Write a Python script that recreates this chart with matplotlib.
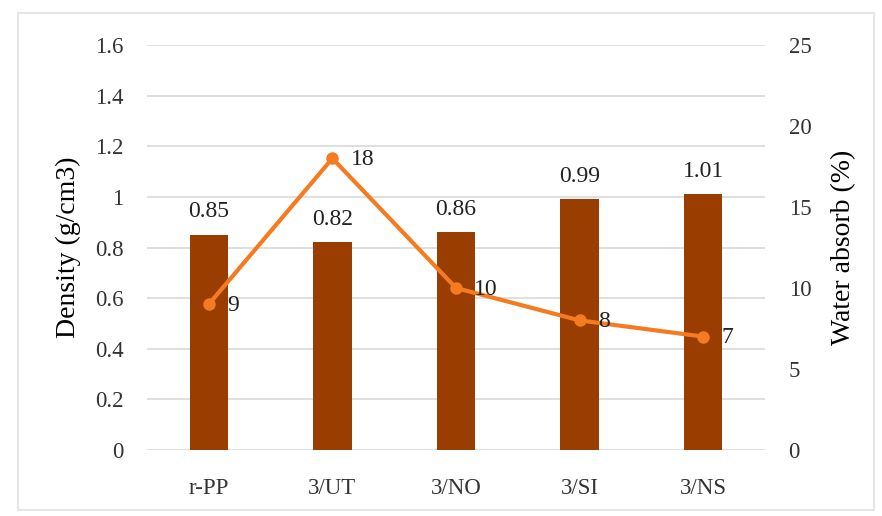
import matplotlib.pyplot as plt
from matplotlib.patches import Rectangle

# Sample groups and measured properties
samples = ["r-PP", "3/UT", "3/NO", "3/SI", "3/NS"]
density = [0.85, 0.82, 0.86, 0.99, 1.01]
water_absorb = [9, 18, 10, 8, 7]

plt.rcParams["font.family"] = ["Liberation Serif", "DejaVu Serif"]

fig = plt.figure(figsize=(8.82, 5.16), dpi=100)
ax = fig.add_axes([147 / 882, 66 / 516, 618 / 882, 405 / 516])
ax2 = ax.twinx()

x = list(range(len(samples)))

# Density bars on the left axis
ax.bar(x, density, width=0.31, color="#993D00", zorder=2)
for xi, d in zip(x, density):
    ax.annotate(f"{d:g}", (xi, d), xytext=(0, 9), textcoords="offset points",
                ha="center", va="bottom", fontsize=17, color="#222222")

ax.set_xlim(-0.5, len(samples) - 0.5)
ax.set_ylim(0, 1.6)
ax.set_yticks([0, 0.2, 0.4, 0.6, 0.8, 1.0, 1.2, 1.4, 1.6])
ax.set_yticklabels(["0", "0.2", "0.4", "0.6", "0.8", "1", "1.2", "1.4", "1.6"])
ax.set_xticks(x)
ax.set_xticklabels(samples)
ax.grid(axis="y", color="#D9D9D9", linewidth=1.2, zorder=0)
ax.set_axisbelow(True)
ax.set_ylabel("Density (g/cm3)", fontsize=20, labelpad=10)

# Water absorption line on the right axis
ax2.plot(x, water_absorb, color="#F47B20", linewidth=3, marker="o",
         markersize=8, zorder=3)
for xi, w in zip(x, water_absorb):
    ax2.annotate(f"{w}", (xi, w), xytext=(13, -1), textcoords="offset points",
                 ha="left", va="center", fontsize=17, color="#222222")
ax2.set_ylim(0, 25)
ax2.set_yticks([0, 5, 10, 15, 20, 25])
ax2.set_ylabel("Water absorb (%)", fontsize=20, labelpad=14)

for a in (ax, ax2):
    for s in a.spines.values():
        s.set_visible(False)
    a.tick_params(length=0, labelsize=16.5, colors="#333333")
ax.tick_params(axis="x", pad=20)
ax.tick_params(axis="y", pad=17)
ax2.tick_params(axis="y", pad=17)
ax.set_zorder(ax2.get_zorder() - 1)
ax2.patch.set_visible(False)

# Light frame around the chart area
fig.patches.append(Rectangle((18 / 882, 6 / 516), 856 / 882, 497 / 516,
                             transform=fig.transFigure, fill=False,
                             edgecolor="#E6E6E6", linewidth=1.5))

fig.savefig("out.png", dpi=100)
